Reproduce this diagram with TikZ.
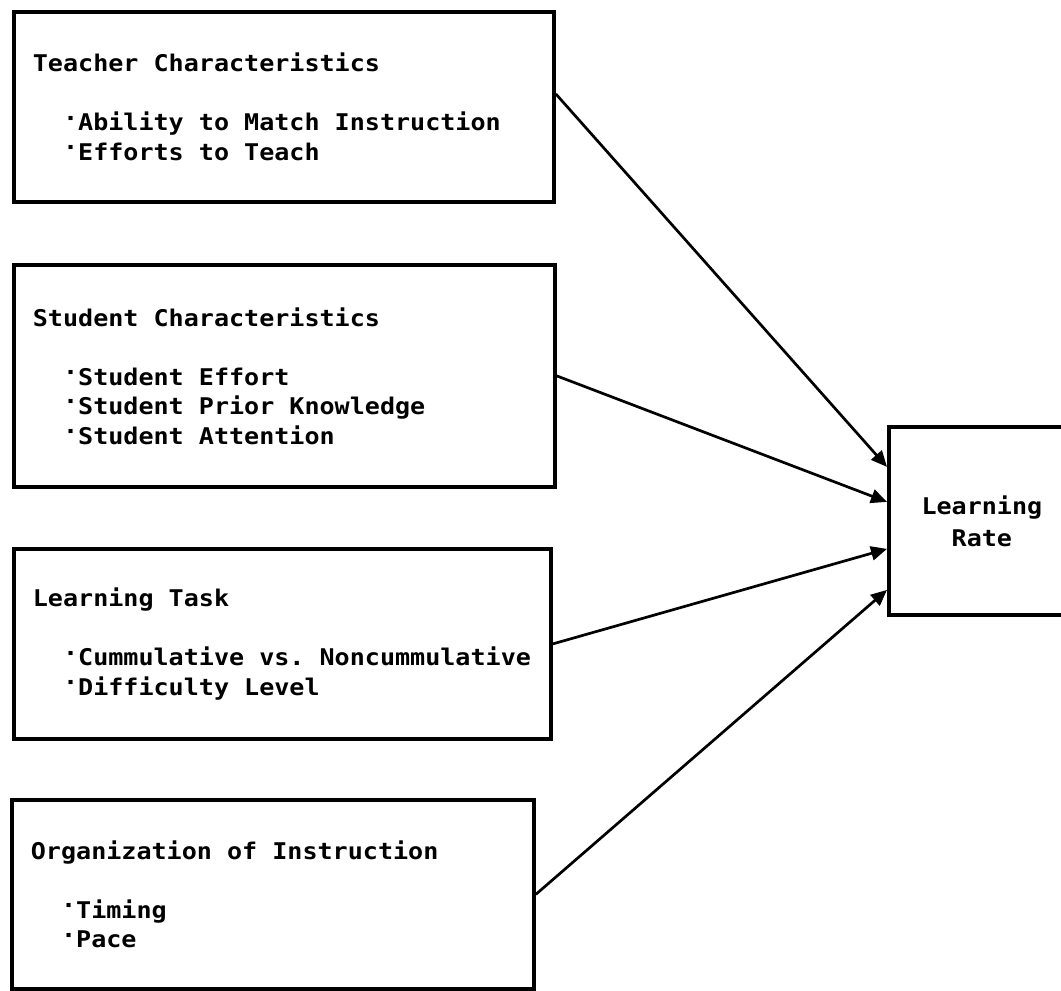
\documentclass[tikz,border=0pt]{standalone}
\usepackage{fontspec}
\newfontfamily\typefont[FakeStretch=1.09]{DejaVu Sans Mono Bold}
\usetikzlibrary{arrows.meta,calc}
% align=left narrows the word spaces, so each line resets them to one cell
\newcommand{\cellsp}{\setbox0\hbox{x}\spaceskip=\wd0\xspaceskip=\wd0\relax}
\newcommand{\boxline}[1]{\mbox{\cellsp#1}}
\newcommand{\itm}[1]{\boxline{\hphantom{xx}\raisebox{0.2em}{·}#1}}
\tikzset{
  factor/.style={draw,line width=1.9pt,anchor=north west,align=left,inner xsep=9.5pt,inner ysep=0pt,
    font=\typefont\fontsize{11.5}{14.75}\selectfont},
  outcome/.style={draw,line width=1.9pt,anchor=north west,align=center,inner sep=0pt,
    font=\typefont\fontsize{11.5}{16}\selectfont},
  link/.style={-{Triangle[length=8pt,width=7pt]},line width=1.35pt},
}

\begin{document}
\begin{tikzpicture}[x=0.5pt,y=-0.5pt]
  \useasboundingbox (0,0) rectangle (1061,991);
  \node[factor,minimum width=270pt,minimum height=95pt,text width=251pt] (teacher) at (12,10)
    {\boxline{Teacher Characteristics}\\[14.75pt]\itm{Ability to Match Instruction}\\\itm{Efforts to Teach}};
  \node[factor,minimum width=270.5pt,minimum height=111pt,text width=251.5pt] (student) at (12,263)
    {\boxline{Student Characteristics}\\[14.75pt]\itm{Student Effort}\\\itm{Student Prior Knowledge}\\\itm{Student Attention}};
  \node[factor,minimum width=268.5pt,minimum height=95pt,text width=249.5pt] (task) at (12,547)
    {\boxline{Learning Task}\\[14.75pt]\itm{Cummulative vs.\ Noncummulative}\\\itm{Difficulty Level}};
  \node[factor,minimum width=261pt,minimum height=94.5pt,text width=242pt] (organ) at (10,798)
    {\boxline{Organization of Instruction}\\[14.75pt]\itm{Timing}\\\itm{Pace}};
  \node[outcome,minimum width=93pt,minimum height=94pt] (rate) at (887,425) {Learning\\Rate};
  \draw[link] ($(teacher.east)+(0,-13)$) -- ($(rate.west)+(0,-54)$);
  \draw[link] (student.east) -- ($(rate.west)+(0,-19)$);
  \draw[link] (task.east) -- ($(rate.west)+(0,28)$);
  \draw[link] (organ.east) -- ($(rate.west)+(0,69)$);
\end{tikzpicture}
\end{document}
